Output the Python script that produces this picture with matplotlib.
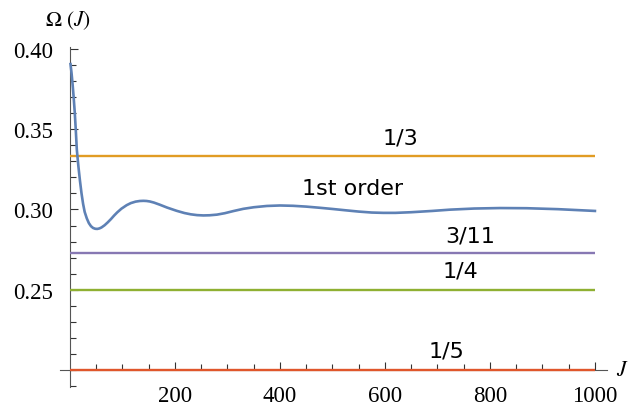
import numpy as np
import matplotlib
matplotlib.use('Agg')
from matplotlib import pyplot as plt

# first order curve
J = [1, 3, 5, 7, 9, 11, 13, 16, 19, 22, 25, 28, 32, 36, 40, 44, 48, 52, 56, 60,
     66, 72, 78, 84, 90, 98, 108, 116, 125, 133, 140, 146, 152, 160, 171, 185,
     203, 218, 230, 242, 254, 266, 280, 295, 311, 330, 350, 375, 400, 425, 450,
     475, 501, 525, 550, 575, 597, 620, 650, 690, 724, 770, 819, 870, 930, 1000]
Omega = [0.3906, 0.385, 0.378, 0.370, 0.361, 0.350, 0.3375, 0.327, 0.318,
         0.310, 0.3035, 0.2985, 0.2945, 0.2915, 0.2896, 0.2885, 0.2880, 0.2879,
         0.2882, 0.2888, 0.2902, 0.2920, 0.2940, 0.2962, 0.2982, 0.3005, 0.3027,
         0.3040, 0.3049, 0.3053, 0.3054, 0.3053, 0.3050, 0.3043, 0.3030, 0.3012,
         0.2992, 0.2978, 0.2970, 0.2965, 0.2963, 0.2964, 0.2968, 0.2977, 0.2990,
         0.3004, 0.3014, 0.3022, 0.3025, 0.3023, 0.3018, 0.3011, 0.3003, 0.2995,
         0.2987, 0.2981, 0.2979, 0.2979, 0.2983, 0.2991, 0.2999, 0.3006, 0.3009,
         0.3008, 0.3002, 0.2991]

# reference levels
levels = [1/3, 3/11, 1/4, 1/5]
levelNames = ['1/3', '3/11', '1/4', '1/5']
levelCols = ['#E19C24', '#8778B3', '#8FB032', '#E0562B']
labelJ = [630, 762, 743, 718]
labelY = [0.345, 0.2838, 0.2619, 0.2119]

plt.rcParams['mathtext.fontset'] = 'stix'
serif = 'Liberation Serif'

fig = plt.figure(figsize=(6.3, 4.1), dpi=100)
ax = fig.add_axes([60/630, 1-388/410, 547/630, (388-48.4)/410])

for lv, col in zip(levels, levelCols):
    ax.plot([0, 1000], [lv, lv], color=col, lw=1.7, zorder=3, solid_capstyle='butt')
ax.plot(J, Omega, color='#5E81B5', lw=1.9, zorder=4)

for name, x, y in zip(levelNames, labelJ, labelY):
    ax.text(x, y, name, fontsize=16, ha='center', va='center', family='DejaVu Sans')
ax.text(539, 0.3131, '1st order', fontsize=16, ha='center', va='center', family='DejaVu Sans')

ax.set_xlim(-19, 1023)
ax.set_ylim(0.1894, 0.401)

for s in ['top', 'right']:
    ax.spines[s].set_visible(False)
ax.spines['left'].set_position(('data', 0))
ax.spines['bottom'].set_position(('data', 0.2))
for s in ['left', 'bottom']:
    ax.spines[s].set_color('#555555')
    ax.spines[s].set_linewidth(0.8)

ax.set_xticks([200, 400, 600, 800, 1000])
ax.set_xticks(np.arange(50, 1001, 50), minor=True)
ax.set_yticks([0.25, 0.30, 0.35, 0.40])
ax.set_yticks(np.arange(0.19, 0.401, 0.01), minor=True)
ax.set_yticklabels(['0.25', '0.30', '0.35', '0.40'])
ax.tick_params(which='both', direction='in', color='#333333', width=0.8)
ax.tick_params(which='major', length=6)
ax.tick_params(which='minor', length=4)
ax.tick_params(axis='x', which='major', pad=11)
ax.tick_params(axis='y', which='major', pad=12)
for lab in ax.get_xticklabels() + ax.get_yticklabels():
    lab.set_family(serif)
    lab.set_fontsize(16.5)

fig.text(68/630, 1-21/410, r'$\Omega\ (J)$', fontsize=15.5, ha='center', va='center')
fig.text(622/630, 1-370/410, r'$J$', fontsize=15.5, ha='center', va='center')

fig.savefig('out.png', dpi=100)
plt.close()
